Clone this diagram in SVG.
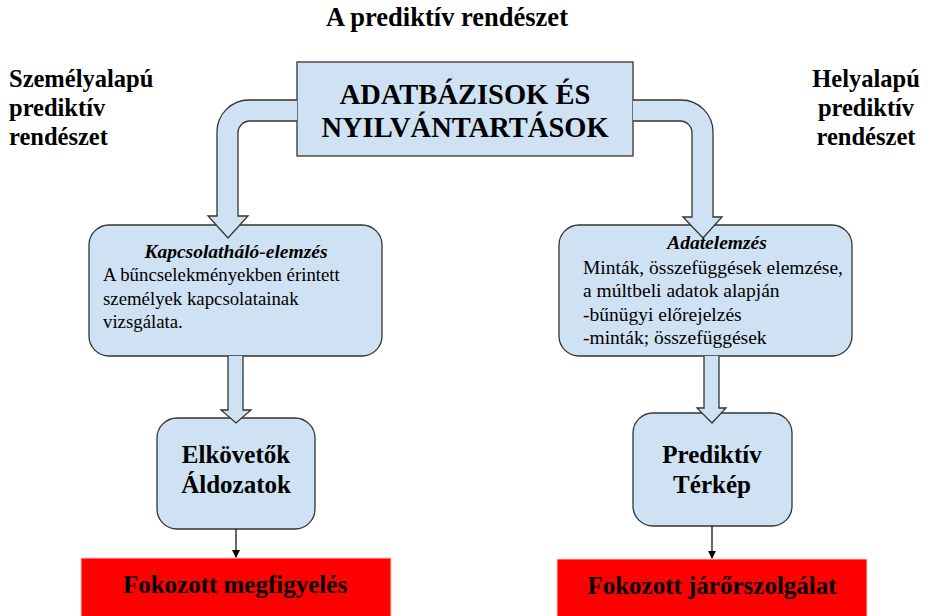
<svg xmlns="http://www.w3.org/2000/svg" width="930" height="616" viewBox="0 0 930 616">
<style>
.t{font-family:'Liberation Serif','Tinos','Times New Roman','DejaVu Serif',serif;fill:#000}
.b{font-weight:bold}
.blue{fill:#cfe2f3;stroke:#333;stroke-width:1.3}
.red{fill:#ff0000;stroke:#f4cccc;stroke-width:1}
.arr{fill:#cfe2f3;stroke:#333;stroke-width:1.3;stroke-linejoin:miter}
.ln{stroke:#000;stroke-width:1.2;fill:none}
</style>
<defs>
<marker id="ah" markerWidth="8" markerHeight="8" refX="7" refY="4" orient="auto" markerUnits="userSpaceOnUse">
<path d="M0,0 L8,4 L0,8 Z" fill="#000"/>
</marker>
</defs>
<rect width="930" height="616" fill="#fff"/>
<text class="t b" x="447" y="26" font-size="26.5" text-anchor="middle">A prediktív rendészet</text>
<g id="side-left">
<text class="t b" x="9" y="87" font-size="24.5">Személyalapú</text>
<text class="t b" x="9" y="116" font-size="24.5">prediktív</text>
<text class="t b" x="9" y="145" font-size="24.5">rendészet</text>
</g>
<g id="side-right">
<text class="t b" x="866" y="87" font-size="24.5" text-anchor="middle">Helyalapú</text>
<text class="t b" x="866" y="116" font-size="24.5" text-anchor="middle">prediktív</text>
<text class="t b" x="866" y="145" font-size="24.5" text-anchor="middle">rendészet</text>
</g>
<g id="n-adatbazis">
<rect class="blue" x="297" y="62" width="336" height="94"/>
<text class="t b" x="465" y="104" font-size="28.5" text-anchor="middle">ADATBÁZISOK ÉS</text>
<text class="t b" x="465" y="137" font-size="28.5" text-anchor="middle">NYILVÁNTARTÁSOK</text>
</g>
<g id="n-kapcsolat">
<rect class="blue" x="89" y="225" width="293" height="131" rx="20"/>
<text class="t b" x="236" y="258" font-size="19.5" text-anchor="middle" font-style="italic">Kapcsolatháló-elemzés</text>
<text class="t" x="103" y="281" font-size="18.8">A bűncselekményekben érintett</text>
<text class="t" x="103" y="305" font-size="18.8">személyek kapcsolatainak</text>
<text class="t" x="103" y="328" font-size="18.8">vizsgálata.</text>
</g>
<g id="n-adatelemzes">
<rect class="blue" x="559" y="225" width="293" height="131" rx="20"/>
<text class="t b" x="717" y="249" font-size="19.5" text-anchor="middle" font-style="italic">Adatelemzés</text>
<text class="t" x="583" y="274" font-size="19.5">Minták, összefüggések elemzése,</text>
<text class="t" x="583" y="297" font-size="19.5">a múltbeli adatok alapján</text>
<text class="t" x="583" y="321" font-size="19.5">-bűnügyi előrejelzés</text>
<text class="t" x="583" y="344" font-size="19.5">-minták; összefüggések</text>
</g>
<g id="n-elkovetok">
<rect class="blue" x="157" y="418" width="158" height="111" rx="20"/>
<text class="t b" x="236" y="463" font-size="25" text-anchor="middle">Elkövetők</text>
<text class="t b" x="236" y="493" font-size="25" text-anchor="middle">Áldozatok</text>
</g>
<g id="n-terkep">
<rect class="blue" x="633" y="413" width="159" height="113" rx="20"/>
<text class="t b" x="712" y="463" font-size="25" text-anchor="middle">Prediktív</text>
<text class="t b" x="712" y="493" font-size="25" text-anchor="middle">Térkép</text>
</g>
<g id="n-megfigyeles">
<rect class="red" x="81" y="558" width="310" height="70"/>
<text class="t b" x="235" y="593" font-size="25" text-anchor="middle">Fokozott megfigyelés</text>
</g>
<g id="n-jaror">
<rect class="red" x="557" y="559" width="310" height="70"/>
<text class="t b" x="712" y="594" font-size="25" text-anchor="middle">Fokozott járőrszolgálat</text>
</g>
<g id="connectors">
<path class="arr" d="M297,100 L249,100 A32,32 0 0 0 217,132 L217,216 L208,216 L228,238 L248,216 L238,216 L238,134 A12,12 0 0 1 250,121 L297,121"/>
<path class="arr" d="M633,100 L681,100 A32,32 0 0 1 713,132 L713,217 L722,217 L703,238 L683,217 L692,217 L692,134 A12,12 0 0 0 680,121 L633,121"/>
<path class="arr" d="M228,356 L228,410 L221,410 L236,423 L251,410 L243,410 L243,356"/>
<path class="arr" d="M704,356 L704,408 L697,408 L712,423 L726,408 L719,408 L719,356"/>
<line class="ln" x1="236" y1="529" x2="236" y2="557" marker-end="url(#ah)"/>
<line class="ln" x1="712" y1="526" x2="712" y2="558" marker-end="url(#ah)"/>
</g>
</svg>
